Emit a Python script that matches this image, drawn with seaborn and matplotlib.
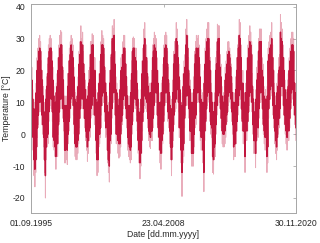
import numpy as np
import pandas as pd
import matplotlib
matplotlib.use("Agg")
import matplotlib.pyplot as plt
import seaborn as sns

# Monthly values, Sep 1995 .. Nov 2020 (one line per year)
ext_hi = [
    25, 21, 14, 11,
    10, 11, 16, 24, 27, 30, 31, 29, 23, 20, 15, 10,
    9, 14, 18, 22, 28, 30, 31, 30, 26, 21, 15, 12,
    13, 16, 19, 24, 28, 31, 32.5, 32, 25, 20, 12, 10,
    12, 11, 19, 23, 27, 29, 31, 30, 28, 21, 14, 13,
    11, 15, 18, 26, 29, 34, 30, 32, 26, 22, 17, 14,
    12, 15, 20, 21, 29, 29, 31.5, 31, 24, 24, 14, 10,
    13, 16, 19, 23, 29, 32.5, 31, 30, 25, 20, 16, 12,
    10, 9, 20, 24, 29, 34, 33, 36, 26, 18, 16, 12,
    11, 14, 17, 24, 25, 29, 31, 31, 26, 22, 15, 11,
    12, 9, 17, 23, 30, 30.5, 30, 27, 27, 20, 14, 10,
    8, 10, 14, 23, 27, 33, 35, 27, 28, 23, 18, 14,
    16, 16, 20, 28, 30, 32, 31, 30, 24, 20, 13, 10,
    13, 16, 17, 22, 28, 31, 32, 31, 26, 21, 16, 12,
    7, 11, 17, 26, 29, 29, 35, 33, 28, 22, 17, 13,
    9, 12, 19, 23, 25, 33, 36, 31, 24, 19, 17, 10,
    13, 12, 18, 26, 29, 31, 30, 31, 28, 22, 14, 12,
    13, 9, 20, 27, 30, 33, 35, 35, 27, 24, 16, 13,
    10, 10, 13, 24, 26, 34.5, 34, 34, 25, 22, 15, 12,
    13, 15, 21, 23, 26, 29, 29, 27, 25, 22, 16, 13,
    13, 12, 18, 24, 28, 31, 36, 35, 28, 20, 20, 12,
    13, 16, 16, 24, 28, 31, 34, 32, 29, 19, 14, 10,
    7, 14, 21, 23, 30, 33, 33, 33, 24, 22, 15, 13,
    14, 10, 15, 27, 29, 31, 32, 35, 28, 24, 16, 12,
    10, 16, 19, 24, 25, 37.5, 35, 33, 28, 24, 17, 14,
    13, 17, 19, 24, 27, 30, 32, 32, 30, 20, 16,
]
ext_lo = [
    4, 0, -5, -13,
    -16.5, -12, -8, -1, 3, 7, 8, 7, 3, 0, -4, -12,
    -20, -8, -4, -3, 4, 8, 9, 8, 4, -4, -5, -7,
    -11, -6, -7, 0, 4, 8, 9, 8, 5, 1, -9, -9,
    -8, -9.5, -3, 1, 5, 8, 10, 9, 6, 0, -7, -8,
    -8, -6, -3, 2, 5, 9, 8, 10, 5, 2, -2, -5,
    -8.5, -6, -2, -1, 5, 6, 10, 9, 3, 4, -6, -13,
    -12, -4, -3, -1, 6, 9, 10, 10, 4, -1, 0, -9,
    -12, -15, -6, -3, 5, 11, 10, 11, 3, -3, -2, -6,
    -7.5, -7, -4, 1, 3, 8, 9, 10, 5, 2, -5, -7,
    -8, -9, -8, 0, 4, 8, 10, 8, 6, 1, -6, -9,
    -14, -10, -6, 1, 4, 9, 11, 8, 7, 2, -2, -4,
    -4.5, -2, -2, 2, 6, 11, 10, 10, 3, -1, -5, -9,
    -11, -6, -3, 1, 6, 10, 10, 10, 4, 2, -3, -8,
    -13, -8, -2, 3, 7, 8, 11, 11, 7, -1, 0, -9,
    -19.5, -9, -7, 2, 6, 9, 12, 9, 5, -2, -2, -10,
    -10, -10, -4, 2, 3, 10, 10, 11, 7, -2, -5, -4,
    -9, -18, -2, 1, 5, 9, 11, 10, 4, 0, -1, -12,
    -12.5, -8, -7, 0, 6, 9, 12, 10, 5, 2, -3, -4,
    -4, -3, -1, 3, 4, 9, 12, 10, 8, 4, 0, -8,
    -7, -7, -3, 1, 6, 9, 11, 11, 5, 1, -3, -3,
    -12, -2, -2, 1, 4, 9, 12, 10, 7, 0, -6, -6,
    -10.5, -6, 0, -1, 5, 10, 10, 11, 5, 0, -3, -5,
    -3, -12, -9, 5, 8, 11, 13, 12, 6, 2, -3, -6,
    -8, -5, 0, 2, 5, 13, 12, 12, 6, 3, 0, -3,
    -5, -1, -2, 2, 5, 10, 11, 12, 6, 3, -2,
]
core_hi = [
    21, 17, 11, 8,
    7, 8, 13, 20, 23, 26, 27, 26, 20, 17, 12, 7,
    6, 11, 15, 19, 24, 26, 27, 27, 23, 17, 12, 9,
    10, 13, 15, 20, 24, 27, 28, 28, 21, 17, 9, 7,
    9, 8, 15, 19, 23, 25, 28, 26, 24, 18, 11, 10,
    8, 12, 15, 22, 25, 29, 26, 28, 22, 19, 14, 11,
    9, 12, 16, 17, 25, 25, 28, 28, 20, 20, 11, 7,
    10, 13, 16, 19, 25, 28, 28, 27, 21, 16, 13, 9,
    7, 6, 16, 20, 25, 30, 29, 31, 22, 14, 13, 9,
    8, 11, 14, 20, 21, 25, 27, 27, 22, 18, 12, 8,
    9, 6, 13, 19, 26, 27, 27, 24, 23, 16, 11, 7,
    5, 7, 11, 19, 23, 28, 30, 23, 24, 19, 15, 11,
    13, 13, 16, 24, 26, 28, 27, 26, 20, 16, 10, 7,
    10, 13, 13, 18, 24, 27, 28, 27, 22, 17, 13, 9,
    4, 8, 13, 22, 25, 25, 30, 29, 24, 18, 14, 10,
    6, 9, 15, 19, 21, 28, 31, 27, 20, 15, 14, 7,
    10, 9, 14, 22, 25, 27, 26, 27, 24, 18, 11, 9,
    10, 6, 16, 22, 26, 29, 30, 30, 23, 20, 13, 10,
    7, 7, 10, 20, 22, 29, 30, 30, 21, 18, 12, 9,
    10, 12, 17, 19, 22, 25, 26, 24, 21, 18, 13, 10,
    10, 9, 14, 20, 24, 27, 31, 30, 24, 16, 16, 9,
    10, 13, 13, 20, 24, 27, 29, 28, 25, 15, 11, 7,
    4, 11, 17, 19, 26, 29, 29, 29, 20, 18, 12, 10,
    11, 7, 12, 23, 25, 27, 28, 30, 24, 20, 13, 9,
    7, 13, 15, 20, 21, 32, 30, 29, 24, 20, 14, 11,
    10, 14, 15, 20, 23, 26, 28, 28, 26, 16, 13,
]
core_lo = [
    7, 3, -1, -8,
    -11, -8, -4, 2, 6, 10, 11, 10, 6, 3, -1, -8,
    -13, -4, -1, 0, 7, 11, 12, 11, 7, -1, -2, -4,
    -7, -2, -3, 3, 7, 11, 12, 11, 8, 4, -5, -5,
    -4, -5, 0, 4, 8, 11, 13, 12, 9, 3, -3, -4,
    -4, -2, 0, 5, 8, 12, 11, 13, 8, 5, 1, -1,
    -4, -2, 1, 2, 8, 9, 13, 12, 6, 7, -2, -8,
    -8, 0, 0, 2, 9, 12, 13, 13, 7, 2, 3, -5,
    -8, -10, -2, 0, 8, 14, 13, 14, 6, 0, 1, -2,
    -3, -3, 0, 4, 6, 11, 12, 13, 8, 5, -1, -3,
    -4, -5, -4, 3, 7, 11, 13, 11, 9, 4, -2, -5,
    -9, -6, -2, 4, 7, 12, 14, 11, 10, 5, 1, 0,
    -1, 1, 1, 5, 9, 14, 13, 13, 6, 2, -1, -5,
    -6, -2, 0, 4, 9, 13, 13, 13, 7, 5, 1, -4,
    -8, -4, 1, 6, 10, 11, 14, 14, 10, 2, 3, -5,
    -12, -5, -3, 5, 9, 12, 15, 12, 8, 1, 1, -6,
    -6, -6, 0, 5, 6, 13, 13, 14, 10, 1, -1, 0,
    -5, -12, 1, 4, 8, 12, 14, 13, 7, 3, 2, -7,
    -8, -4, -3, 3, 9, 12, 15, 13, 8, 5, 1, 0,
    0, 1, 3, 6, 7, 12, 15, 13, 11, 7, 3, -4,
    -3, -3, 1, 4, 9, 12, 14, 14, 8, 4, 1, 1,
    -7, 2, 1, 4, 7, 12, 15, 13, 10, 3, -2, -2,
    -6, -2, 3, 2, 8, 13, 13, 14, 8, 3, 1, -1,
    1, -7, -4, 8, 11, 14, 16, 15, 9, 5, 1, -2,
    -4, -1, 3, 5, 8, 16, 15, 15, 9, 6, 3, 1,
    -1, 3, 1, 5, 8, 13, 14, 15, 9, 6, 2,
]

months = pd.date_range("1995-09-01", "2020-11-01", freq="MS")
x_ticks = ["1995-09-01", "2008-04-23", "2020-11-30"]
x_ticklabels = ["01.09.1995", "23.04.2008", "30.11.2020"]
y_ticks = [-20, -10, 0, 10, 20, 30, 40]

def zigzag(hi, lo):
    d_hi = months + pd.Timedelta(days=8)
    d_lo = months + pd.Timedelta(days=23)
    dates = np.empty(2 * len(months), dtype="datetime64[ns]")
    vals = np.empty(2 * len(months))
    dates[0::2] = d_hi.values
    dates[1::2] = d_lo.values
    vals[0::2] = hi
    vals[1::2] = lo
    return pd.DataFrame({"date": dates, "temp": vals})

sns.set_theme(style="white")
plt.rcParams["font.family"] = ["Liberation Sans", "DejaVu Sans"]

fig = plt.figure(figsize=(3.2, 2.43), dpi=100)
ax = fig.add_axes([0.096, 0.1235, 0.829, 0.859])

col = "#c2173f"
sns.lineplot(data=zigzag(ext_hi, ext_lo), x="date", y="temp", sort=False,
             estimator=None, color=col, alpha=0.36, lw=0.7, ax=ax)
sns.lineplot(data=zigzag(core_hi, core_lo), x="date", y="temp", sort=False,
             estimator=None, color=col, alpha=1.0, lw=1.0, ax=ax)

ax.set_xlim(pd.Timestamp("1995-09-01"), pd.Timestamp("2020-11-30"))
ax.set_ylim(-24.7, 40.75)
ax.set_xticks([pd.Timestamp(t) for t in x_ticks])
ax.set_xticklabels(x_ticklabels)
ax.set_yticks(y_ticks)
ax.set_yticklabels([str(v) for v in y_ticks])

txt = "#262626"
ax.set_xlabel("Date [dd.mm.yyyy]", fontsize=6.2, color=txt, labelpad=2)
ax.set_ylabel("Temperature [°C]", fontsize=6.2, color=txt)
ax.yaxis.set_label_coords(-0.074, 0.5)
ax.tick_params(axis="both", which="both", direction="in", length=2, width=0.5,
               colors="#9a9a9a", labelcolor=txt, labelsize=6.2,
               top=True, right=True, pad=4)
for s in ax.spines.values():
    s.set_visible(True)
    s.set_color("#a6a6a6")
    s.set_linewidth(0.7)
ax.grid(False)
ax.set_facecolor("white")
fig.patch.set_facecolor("white")

fig.savefig("out.png", dpi=100, facecolor="white")
